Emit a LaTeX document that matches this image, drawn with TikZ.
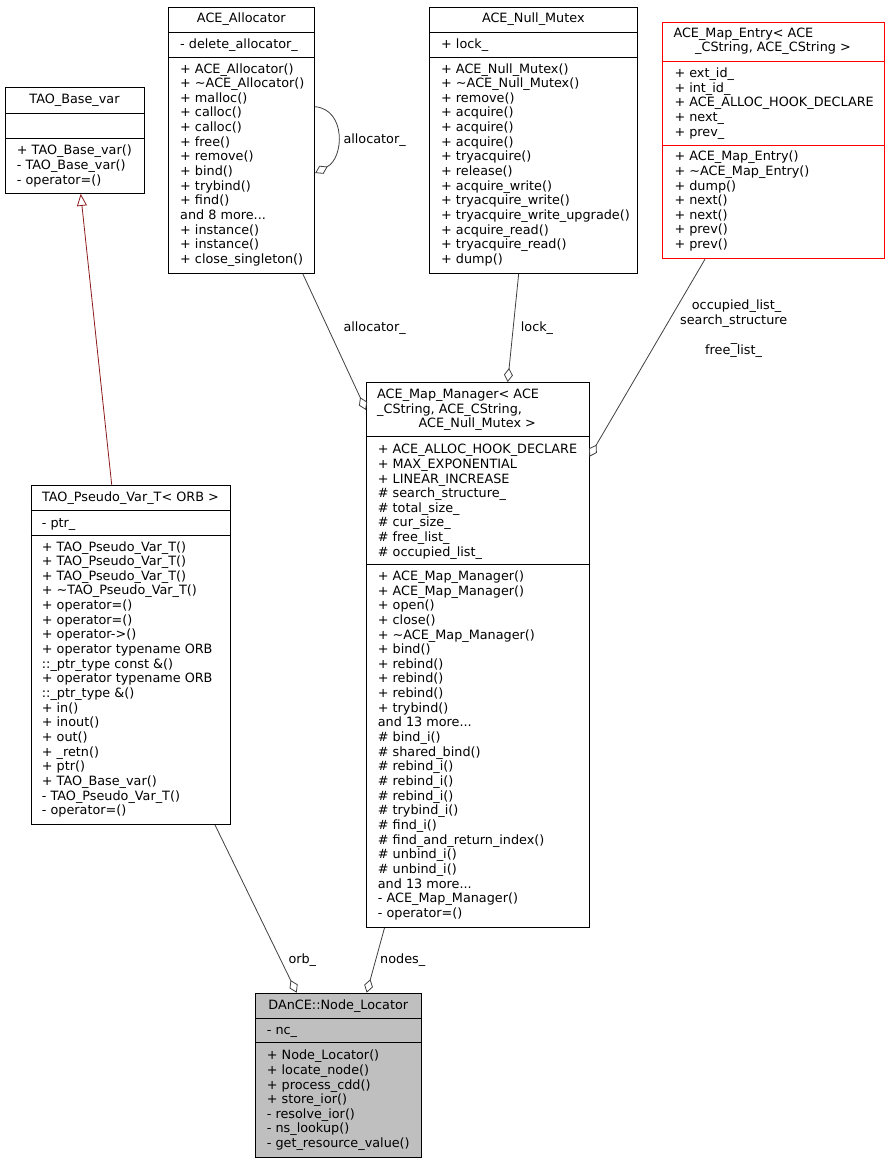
\documentclass[tikz,border=0pt]{standalone}
\usepackage{fontspec}
\setmainfont{DejaVu Sans}
\usetikzlibrary{arrows.meta,calc}
\definecolor{edgegray}{HTML}{404040}
\definecolor{inhred}{HTML}{8B1A1A}
\definecolor{mapred}{HTML}{FF0000}
\definecolor{focusgray}{HTML}{BFBFBF}
\newcommand\memfont{\fontsize{12.8}{14.65}\selectfont}
\newcommand\sepline[3][black]{\draw[sepl,draw=#1] ($(#2.north west)+(0,#3)$) coordinate (tmpa) -- (tmpa -| #2.east);}
\begin{document}
\begin{tikzpicture}[x=1pt,y=-1pt,
  classbox/.style={draw=black, line width=0.9pt, inner sep=0, anchor=north west, fill=white},
  sepl/.style={line width=0.9pt},
  ttl/.style={anchor=base, inner sep=0, font=\memfont},
  mem/.style={anchor=north west, yshift=10.255pt, inner sep=0, align=left, font=\memfont},
  lbl/.style={anchor=base west, inner sep=0, font=\memfont},
  agg/.style={draw=edgegray, line width=0.8pt, -{Diamond[open, length=14pt, width=9pt]}},
  inh/.style={draw=inhred, line width=0.8pt, -{Triangle[open, length=12pt, width=10pt]}}]
\useasboundingbox[fill=white] (0,0) rectangle (889,1163);

% TAO_Base_var
\node[classbox, minimum width=139pt, minimum height=106pt] (tbv) at (5,87) {};
\sepline{tbv}{26}\sepline{tbv}{51}
\node[ttl] (tbvT) at (74.5,103.5) {TAO\_Base\_var};
\node[mem] (tbvM) at (16.7,154.5) {\strut+ TAO\_Base\_var()\\- TAO\_Base\_var()\\- operator=()};

% ACE_Allocator
\node[classbox, minimum width=146pt, minimum height=266pt] (alloc) at (168.3,6.7) {};
\sepline{alloc}{25.6}\sepline{alloc}{50.6}
\node[ttl] (allocT) at (241.3,22.8) {ACE\_Allocator};
\node[mem] (allocA) at (180,47.8) {\strut- delete\_allocator\_};
\node[mem] (allocM) at (180,72.8) {\strut+ ACE\_Allocator()\\+ \textasciitilde ACE\_Allocator()\\+ malloc()\\+ calloc()\\+ calloc()\\+ free()\\+ remove()\\+ bind()\\+ trybind()\\+ find()\\and 8 more...\\+ instance()\\+ instance()\\+ close\_singleton()};

% ACE_Null_Mutex
\node[classbox, minimum width=208pt, minimum height=266pt] (mutex) at (429.3,6.7) {};
\sepline{mutex}{25.6}\sepline{mutex}{50.6}
\node[ttl] (mutexT) at (533.3,22.8) {ACE\_Null\_Mutex};
\node[mem] (mutexA) at (441,47.8) {\strut+ lock\_};
\node[mem] (mutexM) at (441,72.8) {\strut+ ACE\_Null\_Mutex()\\+ \textasciitilde ACE\_Null\_Mutex()\\+ remove()\\+ acquire()\\+ acquire()\\+ acquire()\\+ tryacquire()\\+ release()\\+ acquire\_write()\\+ tryacquire\_write()\\+ tryacquire\_write\_upgrade()\\+ acquire\_read()\\+ tryacquire\_read()\\+ dump()};

% ACE_Map_Entry
\node[classbox, draw=mapred, minimum width=222.6pt, minimum height=236.6pt] (entry) at (661.7,21.7) {};
\sepline[mapred]{entry}{39.6}\sepline[mapred]{entry}{123.6}
\node[mem] (entryT1) at (673.3,37.2) {\strut ACE\_Map\_Entry< ACE};
\node[ttl] (entryT2) at (773,51.8) {\_CString, ACE\_CString >};
\node[mem] (entryA) at (674.3,77.2) {\strut+ ext\_id\_\\+ int\_id\_\\+ ACE\_ALLOC\_HOOK\_DECLARE\\+ next\_\\+ prev\_};
\node[mem] (entryM) at (674.3,160.5) {\strut+ ACE\_Map\_Entry()\\+ \textasciitilde ACE\_Map\_Entry()\\+ dump()\\+ next()\\+ next()\\+ prev()\\+ prev()};

% ACE_Map_Manager
\node[classbox, minimum width=222.5pt, minimum height=545pt] (mm) at (366,382) {};
\sepline{mm}{54}\sepline{mm}{182.7}
\node[mem] (mmT1) at (377,398.5) {\strut ACE\_Map\_Manager< ACE\\\_CString, ACE\_CString,};
\node[ttl] (mmT2) at (477.2,427.2) {ACE\_Null\_Mutex >};
\node[mem] (mmA) at (377.7,453.5) {\strut+ ACE\_ALLOC\_HOOK\_DECLARE\\+ MAX\_EXPONENTIAL\\+ LINEAR\_INCREASE\\\# search\_structure\_\\\# total\_size\_\\\# cur\_size\_\\\# free\_list\_\\\# occupied\_list\_};
\node[mem] (mmM) at (377.7,580.2) {\strut+ ACE\_Map\_Manager()\\+ ACE\_Map\_Manager()\\+ open()\\+ close()\\+ \textasciitilde ACE\_Map\_Manager()\\+ bind()\\+ rebind()\\+ rebind()\\+ rebind()\\+ trybind()\\and 13 more...\\\# bind\_i()\\\# shared\_bind()\\\# rebind\_i()\\\# rebind\_i()\\\# rebind\_i()\\\# trybind\_i()\\\# find\_i()\\\# find\_and\_return\_index()\\\# unbind\_i()\\\# unbind\_i()\\and 13 more...\\- ACE\_Map\_Manager()\\- operator=()};

% TAO_Pseudo_Var_T
\node[classbox, minimum width=199.6pt, minimum height=339.3pt] (pv) at (30.7,484.7) {};
\sepline{pv}{25.3}\sepline{pv}{50.6}
\node[ttl] (pvT) at (130.5,501.2) {TAO\_Pseudo\_Var\_T< ORB >};
\node[mem] (pvA) at (41.7,526.8) {\strut- ptr\_};
\node[mem] (pvM) at (41.7,550.8) {\strut+ TAO\_Pseudo\_Var\_T()\\+ TAO\_Pseudo\_Var\_T()\\+ TAO\_Pseudo\_Var\_T()\\+ \textasciitilde TAO\_Pseudo\_Var\_T()\\+ operator=()\\+ operator=()\\+ operator->()\\+ operator typename ORB\\::\_ptr\_type const \&()\\+ operator typename ORB\\::\_ptr\_type \&()\\+ in()\\+ inout()\\+ out()\\+ \_retn()\\+ ptr()\\+ TAO\_Base\_var()\\- TAO\_Pseudo\_Var\_T()\\- operator=()};

% DAnCE::Node_Locator
\node[classbox, fill=focusgray, minimum width=166pt, minimum height=164pt] (nl) at (255.3,992.7) {};
\sepline{nl}{25.3}\sepline{nl}{50}
\node[ttl] (nlT) at (338.3,1009.5) {DAnCE::Node\_Locator};
\node[mem] (nlA) at (266.7,1034.5) {\strut- nc\_};
\node[mem] (nlM) at (266.7,1059.5) {\strut+ Node\_Locator()\\+ locate\_node()\\+ process\_cdd()\\+ store\_ior()\\- resolve\_ior()\\- ns\_lookup()\\- get\_resource\_value()};

% connector end points
\coordinate (inhS) at ($(pv.north west)+(81,0)$);
\coordinate (inhE) at ($(tbv.south west)+(75.7,0)$);
\coordinate (aS) at ($(alloc.south west)+(134.4,0)$);
\coordinate (aE) at ($(mm.north west)+(0,28)$);
\coordinate (lS) at ($(mutex.south west)+(89.4,0)$);
\coordinate (lE) at ($(mm.north west)+(141.7,0)$);
\coordinate (eS) at ($(entry.south west)+(43.3,0)$);
\coordinate (eE) at ($(mm.north east)+(0,74.7)$);
\coordinate (sS) at ($(alloc.north east)+(0,100)$);
\coordinate (sE) at ($(alloc.north east)+(0,166.3)$);
\coordinate (oS) at ($(pv.south west)+(184.3,0)$);
\coordinate (oE) at ($(nl.north west)+(41.4,0)$);
\coordinate (nS) at ($(mm.south west)+(18.5,0)$);
\coordinate (nE) at ($(nl.north west)+(111.4,0)$);

% connectors
\draw[inh] (inhS) -- (inhE);
\draw[agg] (sS) .. controls ($(sS)+(31,3)$) and ($(sE)+(29,-15)$) .. (sE);
\draw[agg] (aS) -- (aE);
\draw[agg] (lS) -- (lE);
\draw[agg] (eS) -- (eE);
\draw[agg] (oS) -- (oE);
\draw[agg] (nS) -- (nE);

% labels
\node[lbl] (lblSelf) at (343.3,143.8) {allocator\_};
\node[lbl] (lblAlloc) at (343.3,331.2) {allocator\_};
\node[lbl] (lblLock) at (520.7,331.2) {lock\_};
\node[lbl] (lblOcc) at (691.7,309.5) {occupied\_list\_};
\node[lbl] (lblSearch) at (680,324.5) {search\_structure};
\node[ttl] (lblUnd) at (734,341.5) {\_};
\node[lbl] (lblFree) at (705,354.5) {free\_list\_};
\node[lbl] (lblOrb) at (288.3,963.8) {orb\_};
\node[lbl] (lblNodes) at (380,963.8) {nodes\_};
\end{tikzpicture}
\end{document}
